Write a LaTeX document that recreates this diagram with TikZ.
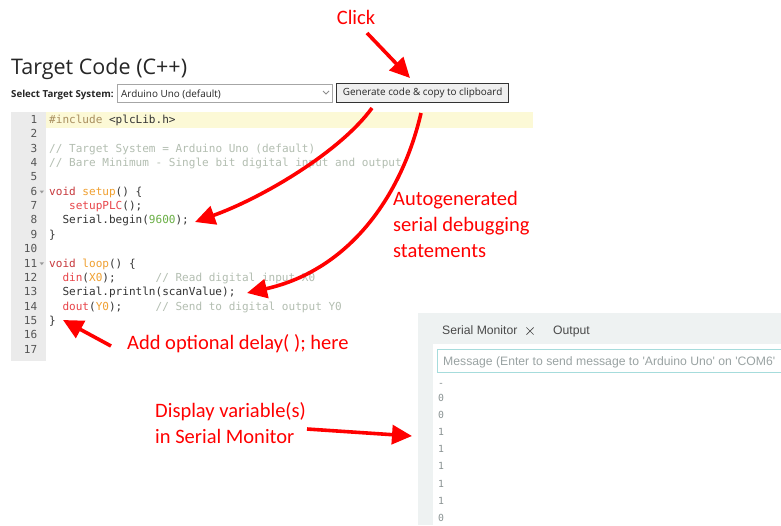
\documentclass[tikz,border=0pt]{standalone}
\usepackage{fontspec}
\setmainfont{Open Sans}
\newfontfamily\uifont{Open Sans}
\newfontfamily\calfont{Carlito}
\newfontfamily\arialfont{Liberation Sans}
\newfontfamily\codefont{DejaVu Sans Mono}
\newfontfamily\valfont{DejaVu Sans Mono}
\usetikzlibrary{arrows.meta,calc}
\definecolor{annotred}{HTML}{FF0000}
\definecolor{titlec}{HTML}{262626}
\definecolor{gutterc}{HTML}{EBEBEB}
\definecolor{hlc}{HTML}{FCF9D6}
\definecolor{lnumc}{HTML}{555555}
\definecolor{cmt}{HTML}{B3BEB1}
\definecolor{kw}{HTML}{C7383C}
\definecolor{fn}{HTML}{F0A030}
\definecolor{redfn}{HTML}{E8454A}
\definecolor{num}{HTML}{6AAF45}
\definecolor{inc}{HTML}{A88E5E}
\definecolor{codec}{HTML}{333333}
\definecolor{panelc}{HTML}{EEF2F2}
\definecolor{msgb}{HTML}{A6DCDC}
\definecolor{msgt}{HTML}{9AA3A3}
\definecolor{valc}{HTML}{8A9393}
\definecolor{btnf}{HTML}{EFEFEF}
\definecolor{btnb}{HTML}{333333}
\definecolor{tabc}{HTML}{4A4A4A}
\newcommand{\codeline}[4]{\node[code] (#1) at ({49+#3*6.65},{123.5+(#2-1)*14.35}) {#4};}
\begin{document}
\begin{tikzpicture}[x=1pt,y=-1pt,
  annot/.style={font=\calfont\fontsize{20.5}{26}\selectfont, text=annotred, inner sep=0pt, align=left},
  arr/.style={draw=annotred, line width=3.6pt, -{Triangle[length=20pt,width=19pt]}},
  code/.style={font=\codefont\fontsize{11.05}{13}\selectfont, text=codec, inner sep=0pt, anchor=base west},
  lnum/.style={font=\codefont\fontsize{11.05}{13}\selectfont, text=lnumc, inner sep=0pt, anchor=base east},
  ui/.style={font=\uifont\fontsize{9.9}{11}\selectfont, text=titlec, inner sep=0pt},
  sm/.style={font=\arialfont\fontsize{12.2}{14}\selectfont, inner sep=0pt, anchor=base west},
  val/.style={font=\valfont\fontsize{9.8}{11}\selectfont, text=valc, inner sep=0pt, anchor=base west}]
\useasboundingbox (0,0) rectangle (781,525);
\fill[white] (0,0) rectangle (781,525);
\clip (0,0) rectangle (781,525);

% header
\node[anchor=base west, inner sep=0pt, font=\uifont\fontsize{21.5}{26}\selectfont, text=titlec] (title) at (11,74) {Target Code (C++)};
\node[ui, anchor=base west, font=\uifont\bfseries\fontsize{9.7}{11}\selectfont] (sel) at (11,97) {Select Target System:};
\node[draw=gray!70, fill=white, minimum width=215pt, minimum height=18pt, inner sep=0pt, anchor=north west] (dd) at (117,84) {};
\node[ui, anchor=base west] (ddtext) at (121,97) {Arduino Uno (default)};
\draw[gray!90, line width=0.8pt] (323,91) -- (326,94) -- (329,91);
\node[draw=btnb, line width=1.3pt, fill=btnf, minimum width=172pt, minimum height=19pt, inner sep=0pt, anchor=north west, ui] (btn) at (336,83) {Generate code \& copy to clipboard};

% editor
\fill[gutterc] (11,112) rectangle (46,361);
\fill[hlc] (46,112) rectangle (533,128);
\foreach \n in {1,...,17} \node[lnum] (ln\n) at (37.5,{123.5+(\n-1)*14.35}) {\n};
\foreach \l in {6,11} \fill[lnumc!60] (39.6,{120+(\l-1)*14.35-1.2}) -- (44,{120+(\l-1)*14.35-1.2}) -- (41.8,{120+(\l-1)*14.35+1.6}) -- cycle;
\codeline{c1}{1}{0}{\textcolor{inc}{\#include} <plcLib.h>}
\codeline{c3}{3}{0}{\textcolor{cmt}{// Target System = Arduino Uno (default)}}
\codeline{c4}{4}{0}{\textcolor{cmt}{// Bare Minimum - Single bit digital input and output}}
\codeline{c6}{6}{0}{\textcolor{kw}{void} \textcolor{fn}{setup}() \{}
\codeline{c7}{7}{3}{\textcolor{redfn}{setupPLC}();}
\codeline{c8}{8}{2}{Serial.begin(\textcolor{num}{9600});}
\codeline{c9}{9}{0}{\}}
\codeline{c11}{11}{0}{\textcolor{kw}{void} \textcolor{fn}{loop}() \{}
\codeline{c12}{12}{2}{\textcolor{redfn}{din}(\textcolor{fn}{X0});}
\codeline{c12c}{12}{16}{\textcolor{cmt}{// Read digital input X0}}
\codeline{c13}{13}{2}{Serial.println(scanValue);}
\codeline{c14}{14}{2}{\textcolor{redfn}{dout}(\textcolor{fn}{Y0});}
\codeline{c14c}{14}{16}{\textcolor{cmt}{// Send to digital output Y0}}
\codeline{c15}{15}{0}{\}}

% serial monitor
\fill[panelc] (418,313) rectangle (781,525);
\fill[white] (433,344) rectangle (781,525);
\draw[msgb, line width=0.9pt] (437.5,349.5) rectangle (800,372.5);
\node[sm, text=tabc] (smtab) at (442,334) {Serial Monitor};
\coordinate (smx) at (530,331);
\draw[tabc, line width=0.7pt] ($(smx)+(-3.6,-3.6)$) -- ($(smx)+(3.6,3.6)$) ($(smx)+(-3.6,3.6)$) -- ($(smx)+(3.6,-3.6)$);
\node[sm, text=tabc] (smout) at (553,334) {Output};
\node[sm, text=msgt] (msg) at (443,365) {Message (Enter to send message to \textquotesingle Arduino Uno\textquotesingle{} on \textquotesingle COM6\textquotesingle};
\node[val] (v0) at (438,386) {-};
\foreach \v [count=\i] in {0,0,1,1,1,1,1,0}
  \node[val] (v\i) at (438,{384.4+\i*17.1}) {\v};

% annotations
\node[annot, anchor=base] (click) at (356,24) {Click};
\coordinate (clickt) at (367,33);
\coordinate (clickh) at (410,78);
\draw[arr] (clickt) -- (clickh);

\node[annot, anchor=base west] (auto1) at (393,205) {Autogenerated};
\node[annot, anchor=base west] (auto2) at (393,231) {serial debugging};
\node[annot, anchor=base west] (auto3) at (393,257) {statements};
\coordinate (a1s) at (372,108);
\coordinate (a1e) at (195,222);
\draw[arr] (a1s) .. controls (340,152) and (262,198) .. (a1e);
\coordinate (a2s) at (421,113);
\coordinate (a2e) at (247,293);
\draw[arr] (a2s) .. controls (402,195) and (350,270) .. (a2e);

\node[annot, anchor=base west] (delay) at (127,349) {Add optional delay( ); here};
\coordinate (dt) at (111,346);
\coordinate (dh) at (63,320);
\draw[arr] (dt) -- (dh);

\node[annot, anchor=base west] (disp1) at (155,417) {Display variable(s)};
\node[annot, anchor=base west] (disp2) at (155,443) {in Serial Monitor};
\coordinate (dst) at (307,429);
\coordinate (dsh) at (412,436);
\draw[arr] (dst) -- (dsh);
\end{tikzpicture}
\end{document}
